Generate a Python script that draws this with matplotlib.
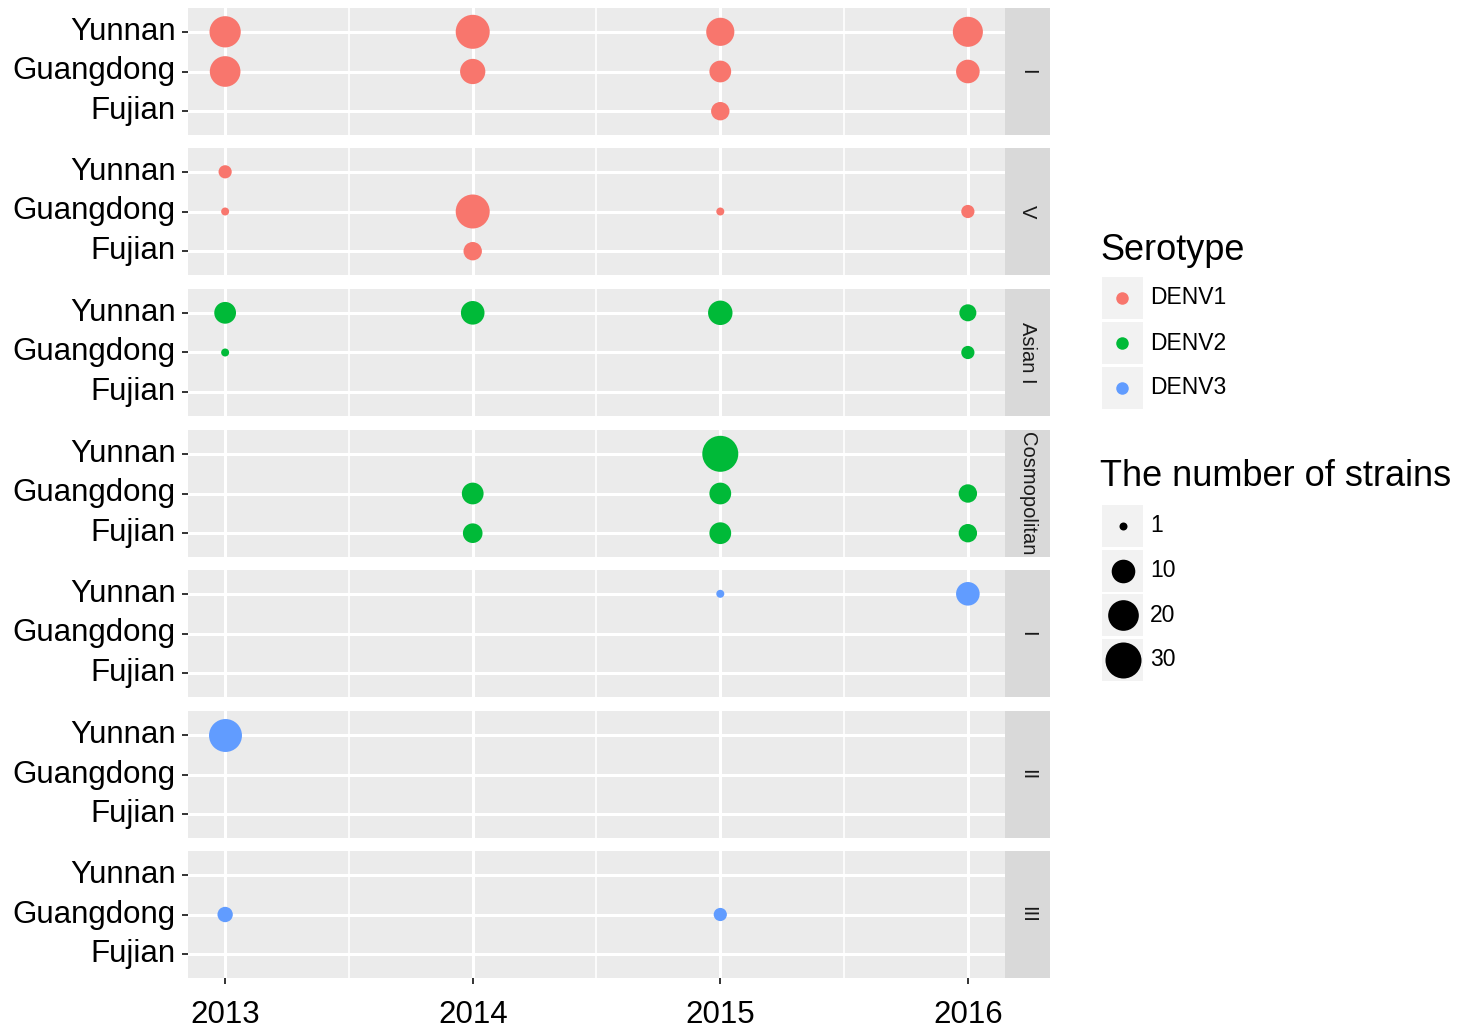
import matplotlib

matplotlib.use("Agg")

import matplotlib.pyplot as plt
import numpy as np
from matplotlib.patches import Rectangle

plt.rcParams["font.family"] = ["Liberation Sans", "DejaVu Sans"]

# ---------------------------------------------------------------- data
YEARS = [2013, 2014, 2015, 2016]
PROVINCES = ["Fujian", "Guangdong", "Yunnan"]  # bottom -> top
GENOTYPES = ["I", "V", "Asian I", "Cosmopolitan", "I", "II", "III"]
SEROTYPES = ["DENV1", "DENV1", "DENV2", "DENV2", "DENV3", "DENV3", "DENV3"]

# strain counts per panel: rows Yunnan, Guangdong, Fujian; columns 2013..2016 (0 = none)
COUNTS = [
    [[21, 26, 16, 19], [20, 12, 8, 10], [0, 0, 5, 0]],  # DENV1 I
    [[2, 0, 0, 0], [1, 26, 1, 2], [0, 5, 0, 0]],  # DENV1 V
    [[8, 10, 11, 4], [1, 0, 0, 2], [0, 0, 0, 0]],  # DENV2 Asian I
    [[0, 0, 30, 0], [0, 8, 8, 5], [0, 6, 8, 5]],  # DENV2 Cosmopolitan
    [[0, 0, 1, 10], [0, 0, 0, 0], [0, 0, 0, 0]],  # DENV3 I
    [[24, 0, 0, 0], [0, 0, 0, 0], [0, 0, 0, 0]],  # DENV3 II
    [[0, 0, 0, 0], [3, 0, 2, 0], [0, 0, 0, 0]],  # DENV3 III
]
ROW_NAMES = ["Yunnan", "Guangdong", "Fujian"]

SIZE_BREAKS = [1, 10, 20, 30]
SERO_COLORS = {"DENV1": "#F8766D", "DENV2": "#00BA38", "DENV3": "#619CFF"}

# ---------------------------------------------------------------- layout
W, H, DPI = 1469, 1029, 100
PANEL_X0, PANEL_X1, STRIP_X1 = 188, 1005, 1050
PANEL_TOPS = [8, 148, 289, 430, 570, 711, 851]
PANEL_H = 127

PANEL_BG = "#EBEBEB"
STRIP_BG = "#D9D9D9"
KEY_BG = "#F2F2F2"
TICK_COLOR = "#333333"


def diam_px(n):
    # area scale: 1 strain -> 8 px, 30 strains -> 36 px
    return 8 + 28 * np.sqrt((np.asarray(n, float) - 1) / 29)


def size_pt2(n):
    return (diam_px(n) * 72 / DPI) ** 2


fig = plt.figure(figsize=(W / DPI, H / DPI), dpi=DPI)
fig.patch.set_facecolor("white")


def fx(px):
    return px / W


def fy(py):
    return 1 - py / H


for i, (geno, sero, counts) in enumerate(zip(GENOTYPES, SEROTYPES, COUNTS)):
    top = PANEL_TOPS[i]
    ax = fig.add_axes([fx(PANEL_X0), fy(top + PANEL_H), fx(PANEL_X1 - PANEL_X0), PANEL_H / H])
    ax.set_facecolor(PANEL_BG)
    for s in ax.spines.values():
        s.set_visible(False)

    ax.set_xlim(2012.85, 2016.15)
    ax.set_ylim(0.4, 3.6)
    ax.set_xticks(YEARS)
    ax.set_xticks([2013.5, 2014.5, 2015.5], minor=True)
    ax.set_yticks([1, 2, 3])
    ax.set_yticklabels(PROVINCES)
    ax.grid(which="major", color="white", linewidth=2.2, zorder=0)
    ax.grid(which="minor", axis="x", color="white", linewidth=1.2, zorder=0)
    ax.set_axisbelow(True)
    ax.tick_params(axis="y", which="major", length=4, width=1.4, color=TICK_COLOR,
                   labelsize=22.5, labelcolor="black", pad=5)
    for lbl in ax.get_yticklabels():
        lbl.set_verticalalignment("center")
    ax.tick_params(axis="x", which="minor", length=0)
    if i == len(GENOTYPES) - 1:
        ax.tick_params(axis="x", which="major", length=4, width=1.4, color=TICK_COLOR,
                       labelsize=22.5, labelcolor="black", pad=12)
    else:
        ax.tick_params(axis="x", which="major", length=0, labelbottom=False)

    xs, ys, ns = [], [], []
    for r, name in enumerate(ROW_NAMES):
        for c, yr in enumerate(YEARS):
            n = counts[r][c]
            if n > 0:
                xs.append(yr)
                ys.append(PROVINCES.index(name) + 1)
                ns.append(n)
    ax.scatter(xs, ys, s=size_pt2(ns), color=SERO_COLORS[sero], linewidths=0, zorder=3)

    # facet strip on the right
    sax = fig.add_axes([fx(PANEL_X1), fy(top + PANEL_H), fx(STRIP_X1 - PANEL_X1), PANEL_H / H])
    sax.set_facecolor(STRIP_BG)
    sax.set_xticks([])
    sax.set_yticks([])
    for s in sax.spines.values():
        s.set_visible(False)
    sax.text(0.5, 0.5, geno, rotation=-90, ha="center", va="center",
             fontsize=14.5, color="#1A1A1A", transform=sax.transAxes)

# ---------------------------------------------------------------- legends
lax = fig.add_axes([0, 0, 1, 1], zorder=10)
lax.set_xlim(0, W)
lax.set_ylim(H, 0)
lax.axis("off")
lax.patch.set_alpha(0)

KEY_X, KEY_W, KEY_H = 1102, 41, 42
lax.text(1100, 250, "Serotype", fontsize=26, ha="left", va="center", color="black")
for k, sero in enumerate(["DENV1", "DENV2", "DENV3"]):
    ky = 277 + k * 45
    lax.add_patch(Rectangle((KEY_X, ky), KEY_W, KEY_H, facecolor=KEY_BG, edgecolor="none"))
    lax.scatter([KEY_X + KEY_W / 2], [ky + KEY_H / 2], s=(12.5 * 0.72) ** 2,
                color=SERO_COLORS[sero], linewidths=0)
    lax.text(1150, ky + KEY_H / 2, sero, fontsize=16.5, ha="left", va="center")

lax.text(1100, 476, "The number of strains", fontsize=26, ha="left", va="center", color="black")
for k, n in enumerate(SIZE_BREAKS):
    ky = 505 + k * 44.5
    lax.add_patch(Rectangle((KEY_X, ky), KEY_W, KEY_H, facecolor=KEY_BG, edgecolor="none"))
    lax.scatter([KEY_X + KEY_W / 2 + 1], [ky + KEY_H / 2], s=size_pt2(n), color="black", linewidths=0)
    lax.text(1150, ky + KEY_H / 2, str(n), fontsize=16.5, ha="left", va="center")

fig.savefig("out.png", dpi=DPI, facecolor="white")
